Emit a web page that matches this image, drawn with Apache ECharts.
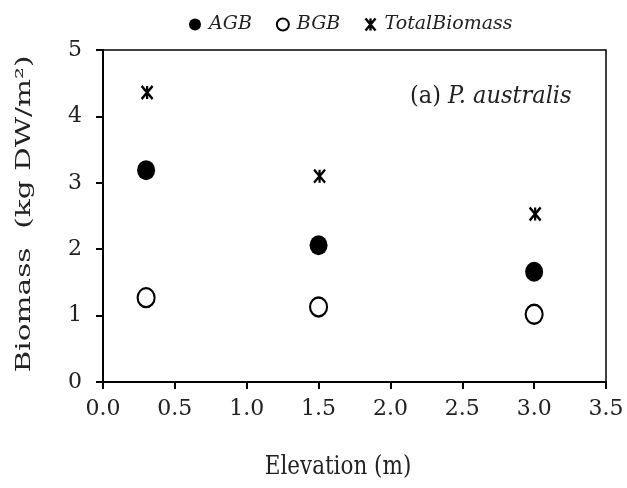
<!DOCTYPE html>
<html><head><meta charset="utf-8">
<script src="https://cdn.jsdelivr.net/npm/echarts@6/dist/echarts.min.js"></script>
<style>html,body{margin:0;padding:0;background:#fff}#c{width:627px;height:488px}</style>
</head><body><div id="c"></div>
<script>
const elevations = [0.3, 1.5, 3.0];
const agb = [3.19, 2.06, 1.66];
const bgb = [1.27, 1.13, 1.02];
const totalBiomass = [4.36, 3.10, 2.53];
const seriesNames = ['AGB', 'BGB', 'TotalBiomass'];
const xTicks = ['0.0','0.5','1.0','1.5','2.0','2.5','3.0','3.5'];
const yTicks = ['0','1','2','3','4','5'];
const xTitle = 'Elevation (m)';
const yTitle = 'Biomass  (kg DW/m²)';

const starPath = 'path://M0,0L10,12M10,0L0,12M5,0L5,12';
const serif = 'DejaVu Serif';
const pairs = v => elevations.map((x, i) => [x, v[i]]);

function textWidth(t, font) {
  const c = document.createElement('canvas').getContext('2d');
  c.font = font;
  return c.measureText(t).width;
}
const yTitleScale = 317 / textWidth(yTitle, '21px "DejaVu Serif"');

const chart = echarts.init(document.getElementById('c'));
chart.setOption({
  animation: false,
  backgroundColor: '#fff',
  grid: { left: 103, right: 21, top: 50, bottom: 106, show: true, borderColor: '#000', borderWidth: 1.5 },
  legend: {
    top: 10, left: 184, itemGap: 24, itemWidth: 12, itemHeight: 12,
    textStyle: { fontFamily: serif, fontStyle: 'italic', fontSize: 19, color: '#222', padding: [0, 0, 0, 3] },
    data: [
      { name: 'AGB', icon: 'circle', itemStyle: { color: '#000', borderWidth: 0 } },
      { name: 'BGB', icon: 'circle', itemStyle: { color: '#fff', borderColor: '#000', borderWidth: 2 } },
      { name: 'TotalBiomass', icon: starPath, itemStyle: { color: '#000', borderColor: '#000', borderWidth: 2.4 } }
    ]
  },
  xAxis: {
    type: 'value', min: 0, max: 3.5, interval: 0.5,
    axisLine: { show: true, lineStyle: { color: '#000', width: 2 } },
    axisTick: { show: true, length: 7, lineStyle: { color: '#000', width: 2 } },
    axisLabel: { margin: 16, fontFamily: serif, fontSize: 22, color: '#222',
      formatter: v => xTicks[Math.round(v / 0.5)] },
    splitLine: { show: false }
  },
  yAxis: {
    type: 'value', min: 0, max: 5, interval: 1,
    axisLine: { show: true, lineStyle: { color: '#000', width: 2 } },
    axisTick: { show: true, length: 7, lineStyle: { color: '#000', width: 2 } },
    axisLabel: { margin: 21, fontFamily: serif, fontSize: 22, color: '#222',
      formatter: v => yTicks[Math.round(v)] },
    splitLine: { show: false }
  },
  graphic: [
    {
      type: 'text', x: 338, y: 467, scaleY: 1.25,
      style: { text: xTitle, fontFamily: serif, fontSize: 21.5, fill: '#222', align: 'center', verticalAlign: 'middle' }
    },
    {
      type: 'text', x: 25, y: 214, rotation: Math.PI / 2, scaleX: yTitleScale,
      style: { text: yTitle, fontFamily: serif, fontSize: 21, fill: '#222', align: 'center', verticalAlign: 'middle' }
    },
    {
      type: 'text', x: 410, y: 97, scaleY: 1.1,
      style: {
        rich: {
          n: { fontFamily: serif, fontSize: 22.5, fill: '#222' },
          i: { fontFamily: serif, fontSize: 22.5, fontStyle: 'italic', fill: '#222' }
        },
        text: '{n|(a) }{i|P. australis}', verticalAlign: 'middle'
      }
    }
  ],
  series: [
    { name: 'AGB', type: 'scatter', data: pairs(agb), symbol: 'circle', symbolSize: [18, 20],
      itemStyle: { color: '#000', opacity: 1 } },
    { name: 'BGB', type: 'scatter', data: pairs(bgb), symbol: 'circle', symbolSize: [17, 19],
      itemStyle: { color: '#fff', borderColor: '#000', borderWidth: 2.2, opacity: 1 } },
    { name: 'TotalBiomass', type: 'scatter', data: pairs(totalBiomass), symbol: starPath, symbolSize: [11, 13],
      symbolOffset: [1, 0],
      itemStyle: { color: '#000', borderColor: '#000', borderWidth: 2.4, opacity: 1 } }
  ]
});
</script></body></html>
